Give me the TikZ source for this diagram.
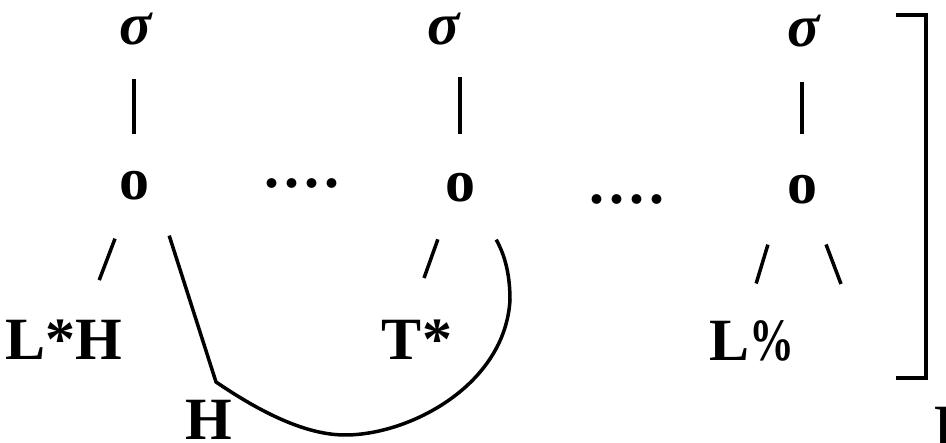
\documentclass[tikz,border=0pt]{standalone}
\usepackage{fontspec}
\usepackage{graphicx}
\setmainfont{Liberation Serif}
\usetikzlibrary{calc}
\begin{document}
\begin{tikzpicture}[x=1pt,y=-1pt,
  lbl/.style={inner sep=0pt, font=\fontsize{60}{72}\selectfont\bfseries},
  sig/.style={inner sep=0pt, font=\fontsize{60}{72}\selectfont\bfseries\itshape},
  ln/.style={line width=3.5pt},
]
\useasboundingbox (0,0) rectangle (946,443);
\clip (0,0) rectangle (946,443);
% syllables
\node[sig] (s1) at (136,29) {σ};
\node[sig] (s2) at (444,29) {σ};
\node[sig] (s3) at (804,31) {σ};
% anchors
\node[lbl] (o1) at (134,186) {o};
\node[lbl] (o2) at (460,188) {o};
\node[lbl] (o3) at (802,190) {o};
% dots
\node[lbl] (d1) at (302,183) {.\kern5pt.\kern5pt.\kern5pt.};
\node[lbl] (d2) at (627,199) {.\kern5pt.\kern5pt.\kern5pt.};
% tones
\node[lbl] (LH) at (64,340) {L*H};
\node[lbl] (TS) at (417,340) {T*};
\node[lbl] (LP) at (752,341) {L\scalebox{0.75}[1]{\%}};
\node[lbl] (H) at (209,420) {H};
\node[lbl, anchor=north west] (Lc) at (934,407) {L};
% vertical association lines
\draw[ln, shorten <=34pt, shorten >=37pt] (s1.south -| o1.north) -- (o1.north);
\draw[ln, shorten <=32pt, shorten >=39pt] (s2.south -| o2.north) -- (o2.north);
\draw[ln, shorten <=35pt, shorten >=41pt] (s3.south -| o3.north) -- (o3.north);
% slashes
\draw[ln, shorten <=40.7pt, shorten >=42.7pt] ([xshift=-4.5pt]o1.south) -- ([xshift=20pt]LH.north);
\draw[ln, shorten <=39pt, shorten >=44.6pt] ([xshift=-9pt]o2.south) -- ([xshift=-8pt]TS.north);
\draw[ln, shorten <=41.8pt, shorten >=38.6pt] ([xshift=-22pt]o3.south) -- ([xshift=-7pt]LP.north);
\coordinate (rt) at (841,284);
\draw[ln, shorten <=42.6pt] ([xshift=9pt]o3.south) -- (rt);
% curve linking o1 and o2
\draw[ln, line join=round] ([shift={(20,35)}]o1.south east) -- (216,382)
  .. controls (250,405) and (300,435) .. (345,435)
  .. controls (410,435) and (505,385) .. (510,300)
  .. controls (510,270) and (503,252) .. ([shift={(21,37)}]o2.south east);
% bracket
\draw[ln] (896,15) -- (926,15) -- (926,378) -- (896,378);
\end{tikzpicture}
\end{document}
